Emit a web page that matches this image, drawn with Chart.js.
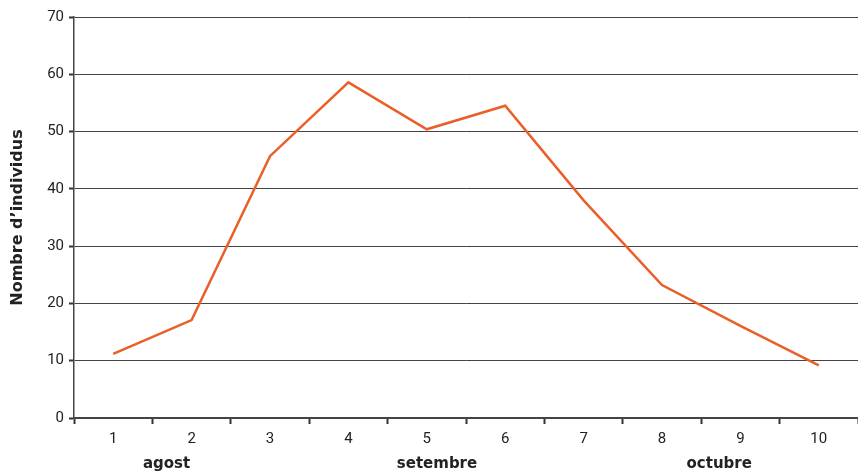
<!DOCTYPE html>
<html>
<head>
<meta charset="utf-8">
<script src="https://cdn.jsdelivr.net/npm/chart.js@4"></script>
<style>
  html, body { margin: 0; padding: 0; background: #fff; }
  #wrap { width: 858px; height: 476px; }
</style>
</head>
<body>
<div id="wrap"><canvas id="chart" width="858" height="476"></canvas></div>
<script>
// --- DATA ---
const weeks = ['1', '2', '3', '4', '5', '6', '7', '8', '9', '10'];
const individus = [11.2, 17.1, 45.7, 58.6, 50.4, 54.5, 38.0, 23.2, 16.1, 9.2];
const months = ['agost', 'setembre', 'octubre'];
const monthAt = [0.68, 4.13, 7.73];   // category position under which each month sits

const FONT = '"Liberation Sans Narrow", Roboto, sans-serif';
const BOLD_FONT = '"DejaVu Sans", sans-serif';

// month names under the week numbers
const monthLabels = {
    id: 'monthLabels',
    afterDraw(chart) {
        const ctx = chart.ctx;
        const x = chart.scales.x;
        ctx.save();
        ctx.font = 'bold 15px ' + BOLD_FONT;
        ctx.fillStyle = '#222';
        ctx.textAlign = 'center';
        ctx.textBaseline = 'middle';
        months.forEach((m, i) => {
            ctx.fillText(m, x.getPixelForValue(monthAt[i]), 464);
        });
        ctx.restore();
    }
};

new Chart(document.getElementById('chart').getContext('2d'), {
    type: 'line',
    data: {
        labels: weeks,
        datasets: [{
            data: individus,
            borderColor: '#ea5f28',
            borderWidth: 2.5,
            pointRadius: 0,
            tension: 0,
            fill: false
        }]
    },
    options: {
        responsive: false,
        animation: false,
        layout: { padding: { top: 17, right: 0, left: 0, bottom: 0 } },
        plugins: { legend: { display: false }, tooltip: { enabled: false } },
        scales: {
            x: {
                offset: true,
                grid: {
                    offset: true,
                    drawOnChartArea: false,
                    drawTicks: true,
                    tickLength: 6,
                    tickWidth: 2,
                    tickColor: '#333'
                },
                border: { color: '#444', width: 1.5 },
                ticks: { font: { family: FONT, size: 15 }, color: '#222', padding: 6, maxRotation: 0 },
                afterFit: s => { s.height = 58; }
            },
            y: {
                min: 0,
                max: 70,
                ticks: { stepSize: 10, font: { family: FONT, size: 15 }, color: '#222', padding: 5 },
                grid: {
                    color: '#444',
                    lineWidth: 1,
                    tickLength: 5,
                    tickWidth: 2,
                    tickColor: '#333'
                },
                border: { color: '#444', width: 1.5 },
                title: {
                    display: true,
                    text: 'Nombre d’individus',
                    font: { family: BOLD_FONT, size: 16, weight: 'bold' },
                    color: '#222',
                    padding: { top: 8, bottom: 4 }
                },
                afterFit: s => { s.width = 74; }
            }
        }
    },
    plugins: [monthLabels]
});
</script>
</body>
</html>
